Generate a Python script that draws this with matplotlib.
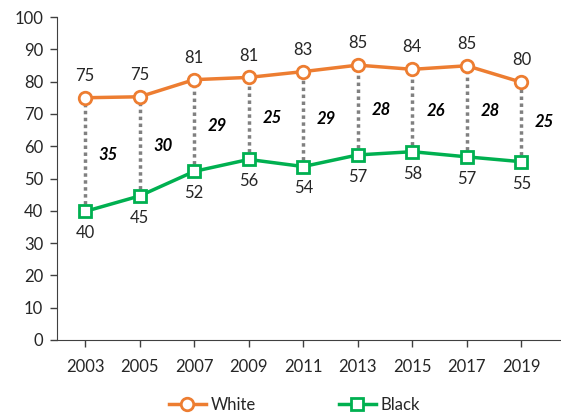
import matplotlib
matplotlib.use("Agg")
import matplotlib.pyplot as plt

years = [2003, 2005, 2007, 2009, 2011, 2013, 2015, 2017, 2019]
white = [75.0, 75.3, 80.6, 81.3, 83.1, 85.1, 83.8, 84.9, 79.8]
black = [39.8, 44.6, 52.2, 55.9, 53.7, 57.3, 58.3, 56.7, 55.2]
gaps = [35, 30, 29, 25, 29, 28, 26, 28, 25]

orange = "#ED7D31"
green = "#00B050"
txt = "#262626"
plt.rcParams["font.family"] = ["Lato", "DejaVu Sans"]

fig = plt.figure(figsize=(5.61, 4.17), dpi=100)
ax = fig.add_axes([57 / 561, 1 - 340 / 417, 1 - 57 / 561, (340 - 17) / 417])

# dotted gap connectors
for x, w, b in zip(years, white, black):
    ax.plot([x, x], [b, w], color="#808080", lw=2.5, ls=(0, (1, 1)), zorder=1)

ax.plot(years, white, color=orange, lw=2.5, marker="o", ms=9, mfc="white",
        mec=orange, mew=2, label="White", zorder=3)
ax.plot(years, black, color=green, lw=2.5, marker="s", ms=8.5, mfc="white",
        mec=green, mew=2, label="Black", zorder=3)

for x, w, b, g in zip(years, white, black, gaps):
    ax.annotate(f"{w:.0f}", (x, w), xytext=(0, 10), textcoords="offset points",
                ha="center", va="bottom", fontsize=12, color=txt)
    ax.annotate(f"{b:.0f}", (x, b), xytext=(0, -10), textcoords="offset points",
                ha="center", va="top", fontsize=12, color=txt)
    ax.text(x + 0.85, (w + b) / 2, str(g), ha="center", va="center",
            fontsize=12, fontweight="bold", style="italic", color="black")

ax.set_xlim(2001.97, 2020.45)
ax.set_ylim(0, 100)
ax.set_xticks(years)
ax.set_yticks(range(0, 101, 10))
ax.tick_params(axis="both", direction="out", length=5, width=1, color="#404040",
               labelsize=12, labelcolor=txt)
ax.tick_params(axis="x", pad=9)
ax.tick_params(axis="y", pad=5)
for s in ["top", "right"]:
    ax.spines[s].set_visible(False)
for s in ["left", "bottom"]:
    ax.spines[s].set_color("#404040")

fig.legend(loc="center", bbox_to_anchor=(0.525, 1 - 405 / 417), ncol=2,
           frameon=False, fontsize=12, handlelength=2.2, columnspacing=5.0,
           handletextpad=0.3, labelcolor=txt, borderpad=0.1)

fig.savefig("out.png", dpi=100)
